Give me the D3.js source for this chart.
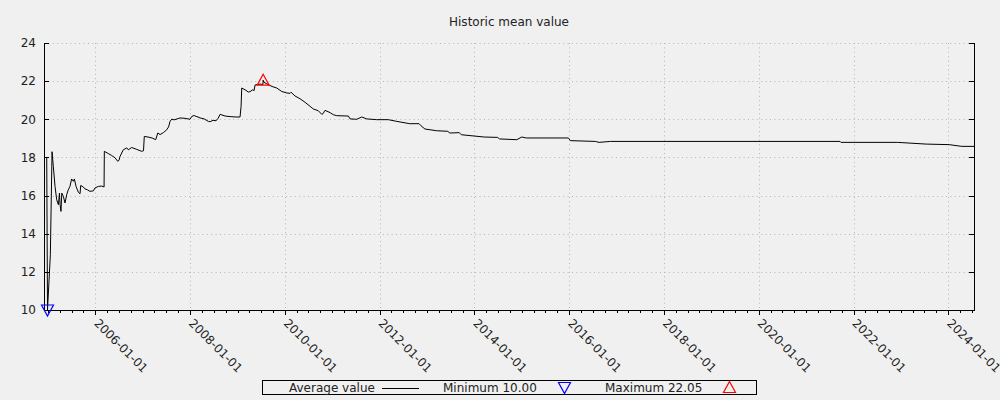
<!DOCTYPE html>
<html><head><meta charset="utf-8">
<script src="https://cdn.jsdelivr.net/npm/d3@7"></script>
<style>
html,body{margin:0;padding:0;background:#f0f0f0;}
svg{display:block;font-family:"DejaVu Sans",sans-serif;}
</style></head>
<body><svg id="c" width="1000" height="400"></svg>
<script>
const title = "Historic mean value";
const dates = ["2004-12-22","2004-12-28","2005-01-19","2005-02-01","2005-02-11","2005-02-24","2005-03-09","2005-03-22","2005-03-30","2005-04-04","2005-04-11","2005-04-17","2005-04-29","2005-05-12","2005-05-25","2005-06-06","2005-06-19","2005-07-02","2005-07-15","2005-07-23","2005-08-05","2005-08-23","2005-09-05","2005-09-10","2005-09-30","2005-10-13","2005-11-01","2005-11-21","2005-12-17","2005-12-29","2006-01-24","2006-02-19","2006-03-09","2006-03-11","2006-03-16","2006-04-11","2006-05-07","2006-06-01","2006-06-22","2006-07-02","2006-07-10","2006-08-04","2006-08-31","2006-09-12","2006-10-08","2006-11-16","2006-12-24","2007-01-07","2007-01-13","2007-02-11","2007-03-14","2007-04-11","2007-04-27","2007-05-15","2007-06-09","2007-07-05","2007-07-19","2007-07-31","2007-08-13","2007-08-30","2007-09-23","2007-10-16","2007-11-23","2007-12-31","2008-01-14","2008-02-01","2008-02-16","2008-03-02","2008-03-18","2008-04-18","2008-05-21","2008-06-03","2008-06-26","2008-07-19","2008-08-04","2008-08-19","2008-09-27","2008-11-04","2008-12-20","2009-01-20","2009-01-28","2009-02-02","2009-02-27","2009-03-25","2009-04-07","2009-04-28","2009-05-08","2009-05-16","2009-06-08","2009-06-23","2009-07-15","2009-07-17","2009-07-21","2009-08-09","2009-08-26","2009-09-24","2009-10-30","2009-12-07","2010-01-15","2010-02-09","2010-02-17","2010-03-20","2010-04-27","2010-06-05","2010-07-14","2010-08-08","2010-09-15","2010-10-12","2010-10-22","2010-11-06","2010-12-15","2011-01-09","2011-02-04","2011-05-05","2011-05-18","2011-07-08","2011-08-16","2011-09-23","2011-12-09","2012-03-08","2012-05-12","2012-06-06","2012-08-19","2012-10-31","2012-11-15","2012-12-15","2013-03-14","2013-06-09","2013-06-25","2013-09-06","2013-09-21","2014-03-17","2014-06-28","2014-07-13","2014-11-23","2014-12-31","2015-02-04","2015-12-26","2016-01-10","2016-07-20","2016-08-18","2016-11-14","2021-09-19","2021-09-25","2022-12-05","2023-07-14","2024-01-08","2024-04-14","2024-07-17"];
const values = [18.0,10.0,12.9,18.3,17.53,16.48,15.78,15.52,16.13,15.52,15.17,16.13,15.96,15.61,16.05,16.3,16.48,16.87,16.75,16.87,16.48,16.17,16.1,16.53,16.45,16.35,16.3,16.22,16.25,16.4,16.48,16.5,16.45,18.32,18.3,18.2,18.1,17.98,17.8,17.85,18.05,18.4,18.5,18.4,18.52,18.42,18.32,18.35,19.1,19.07,19.02,18.93,19.28,19.2,19.3,19.45,19.6,19.9,20.01,19.97,20.02,20.07,20.05,20.0,20.15,20.2,20.15,20.12,20.07,20.02,19.89,19.87,19.95,19.92,20.05,20.26,20.17,20.14,20.12,20.12,20.68,21.64,21.55,21.43,21.45,21.55,21.5,21.8,21.82,21.85,21.82,22.05,21.95,21.88,21.81,21.72,21.64,21.46,21.38,21.36,21.42,21.22,21.08,20.89,20.68,20.54,20.45,20.26,20.3,20.47,20.35,20.24,20.19,20.17,20.02,20.0,20.12,20.02,19.98,19.98,19.89,19.86,19.77,19.77,19.66,19.49,19.4,19.37,19.28,19.3,19.19,19.07,19.05,18.97,18.93,19.07,19.02,19.02,18.88,18.84,18.79,18.84,18.84,18.79,18.79,18.7,18.67,18.58,18.58];
const yTicks = [10,12,14,16,18,20,22,24];
const xDomain = ["2004-12-01","2024-07-17"];
const legendLabels = ["Average value","Minimum 10.00","Maximum 22.05"];
const minPoint = ["2004-12-28",10.0];
const maxPoint = ["2009-07-17",22.05];

const parse = d3.utcParse("%Y-%m-%d");
const data = dates.map((d,i)=>({date:parse(d), value:values[i]}));
const svg = d3.select("#c");
const L=44,R=974,T=43,B=310;
const x = d3.scaleUtc().domain(xDomain.map(parse)).range([L,R]);
const y = d3.scaleLinear().domain([10,24]).range([B,T]);
const gridCol = "#b4b4b4", txt = "#222";

svg.append("text").attr("x",(L+R)/2).attr("y",26).attr("text-anchor","middle")
  .attr("font-size",12).attr("fill",txt).text(title);

// grid
const majors = x.ticks(d3.utcYear.every(2));
const g = svg.append("g").attr("stroke",gridCol).attr("stroke-dasharray","1,3.4").attr("stroke-width",1);
yTicks.filter(t=>t>10).forEach(t=>{
  g.append("line").attr("x1",L).attr("x2",R).attr("y1",Math.round(y(t))+0.5).attr("y2",Math.round(y(t))+0.5);
});
majors.forEach(t=>{
  g.append("line").attr("x1",Math.round(x(t))+0.5).attr("x2",Math.round(x(t))+0.5).attr("y1",T).attr("y2",B);
});

// axes
const ax = svg.append("g").attr("stroke","#000").attr("stroke-width",1).attr("shape-rendering","crispEdges");
ax.append("line").attr("x1",L+0.5).attr("x2",L+0.5).attr("y1",T).attr("y2",B+1);
ax.append("line").attr("x1",R+0.5).attr("x2",R+0.5).attr("y1",T).attr("y2",B+1);
ax.append("line").attr("x1",L).attr("x2",R+1).attr("y1",B+0.5).attr("y2",B+0.5);
yTicks.forEach(t=>{
  const yy = Math.round(y(t))+0.5;
  ax.append("line").attr("x1",L).attr("x2",L+5).attr("y1",yy).attr("y2",yy);
  ax.append("line").attr("x1",R-5).attr("x2",R).attr("y1",yy).attr("y2",yy);
  svg.append("text").attr("x",36).attr("y",y(t)).attr("dy","0.36em").attr("text-anchor","end")
    .attr("font-size",12).attr("fill",txt).text(t);
});
const minors = x.ticks(d3.utcMonth.every(3));
minors.forEach(t=>{
  const xx = Math.round(x(t))+0.5;
  ax.append("line").attr("x1",xx).attr("x2",xx).attr("y1",B).attr("y2",B+3);
});
majors.forEach(t=>{
  const xx = Math.round(x(t))+0.5;
  ax.append("line").attr("x1",xx).attr("x2",xx).attr("y1",B).attr("y2",B+5);
  svg.append("text").attr("transform",`translate(${x(t)-2},${B+14}) rotate(45)`)
    .attr("font-size",12).attr("fill",txt).text(d3.utcFormat("%Y-%m-%d")(t));
});

// line
svg.append("path").datum(data).attr("fill","none").attr("stroke","#000").attr("stroke-width",1)
  .attr("d",d3.line().x(d=>x(d.date)).y(d=>y(d.value)));

// markers
function tri(cx,cy,up){
  const h=10,w=12;
  return up ? `M${cx},${cy-h/2-1}L${cx+w/2},${cy+h/2}L${cx-w/2},${cy+h/2}Z`
            : `M${cx-w/2},${cy-h/2}L${cx+w/2},${cy-h/2}L${cx},${cy+h/2+1}Z`;
}
svg.append("path").attr("d",tri(x(parse(minPoint[0])),y(minPoint[1]),false)).attr("fill","none").attr("stroke","#0000ff").attr("stroke-width",1.2);
svg.append("path").attr("d",tri(x(parse(maxPoint[0])),y(maxPoint[1]),true)).attr("fill","none").attr("stroke","#ff0000").attr("stroke-width",1.2);

// legend
const lg = svg.append("g");
lg.append("rect").attr("x",262.5).attr("y",380.5).attr("width",494).attr("height",14).attr("fill","none").attr("stroke","#000");
lg.append("text").attr("x",289).attr("y",392).attr("font-size",12).attr("fill",txt).text(legendLabels[0]);
lg.append("line").attr("x1",382).attr("x2",419).attr("y1",388.5).attr("y2",388.5).attr("stroke","#000");
lg.append("text").attr("x",443).attr("y",392).attr("font-size",12).attr("fill",txt).text(legendLabels[1]);
lg.append("path").attr("d",tri(564.5,387.5,false)).attr("fill","none").attr("stroke","#0000ff").attr("stroke-width",1.2);
lg.append("text").attr("x",605).attr("y",392).attr("font-size",12).attr("fill",txt).text(legendLabels[2]);
lg.append("path").attr("d",tri(729.5,387.5,true)).attr("fill","none").attr("stroke","#ff0000").attr("stroke-width",1.2);
</script></body></html>
